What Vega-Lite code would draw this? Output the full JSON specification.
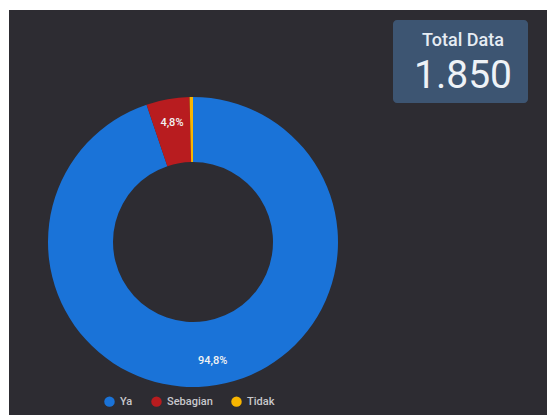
{
  "$schema": "https://vega.github.io/schema/vega-lite/v6.json",
  "width": 547,
  "height": 415,
  "autosize": {"type": "fit", "contains": "padding"},
  "padding": {"left": 9, "top": 10, "right": 0, "bottom": 0},
  "background": "white",
  "view": {"fill": "#2d2c32", "stroke": null},
  "config": {
    "view": {"fill": "#2d2c32", "stroke": null},
    "font": "Roboto",
    "locale": {"number": {"decimal": ",", "thousands": ".", "grouping": [3], "currency": ["Rp", ""]}}
  },
  "datasets": {
    "jawaban": [
      {"kategori": "Ya", "jumlah": 1754, "persen": 0.948, "urut": 1},
      {"kategori": "Sebagian", "jumlah": 89, "persen": 0.048, "urut": 2},
      {"kategori": "Tidak", "jumlah": 7, "persen": 0.004, "urut": 3}
    ],
    "ringkasan": [{"judul": "Total Data", "total": 1850}]
  },
  "layer": [
    {
      "data": {"name": "jawaban"},
      "mark": {"type": "arc", "x": 184, "y": 232, "radius": 145, "radius2": 80},
      "encoding": {
        "theta": {"field": "jumlah", "type": "quantitative", "stack": true},
        "order": {"field": "urut", "type": "quantitative"},
        "color": {
          "field": "kategori",
          "type": "nominal",
          "scale": {"domain": ["Ya", "Sebagian", "Tidak"], "range": ["#1a73d8", "#b81c1f", "#f7b500"]},
          "legend": {
            "title": null,
            "orient": "none",
            "direction": "horizontal",
            "legendX": 95,
            "legendY": 386,
            "symbolType": "circle",
            "symbolSize": 110,
            "symbolStrokeWidth": 0,
            "labelColor": "#c8c8cc",
            "labelFontSize": 11,
            "labelFontWeight": 500,
            "labelFont": "Roboto",
            "labelOffset": 5,
            "columnPadding": 18
          }
        }
      }
    },
    {
      "data": {"name": "jawaban"},
      "transform": [{"filter": "datum.persen > 0.02"}],
      "mark": {"type": "text", "x": 184, "y": 232, "radius": 121, "color": "#f2f2f2", "fontSize": 11, "fontWeight": 500, "font": "Roboto"},
      "encoding": {
        "theta": {"field": "jumlah", "type": "quantitative", "stack": true},
        "order": {"field": "urut", "type": "quantitative"},
        "text": {"field": "persen", "type": "quantitative", "format": ".1%"}
      }
    },
    {
      "data": {"name": "ringkasan"},
      "mark": {"type": "rect", "x": 384, "x2": 519, "y": 10, "y2": 93, "color": "#3d5572", "cornerRadius": 4}
    },
    {
      "data": {"name": "ringkasan"},
      "mark": {"type": "text", "x": 454, "y": 31, "fontSize": 18, "fontWeight": 500, "color": "#e6ecf3", "font": "Roboto", "align": "center", "baseline": "middle"},
      "encoding": {"text": {"field": "judul", "type": "nominal"}}
    },
    {
      "data": {"name": "ringkasan"},
      "mark": {"type": "text", "x": 454, "y": 66, "fontSize": 39, "fontWeight": 400, "color": "#eef2f7", "font": "Roboto", "align": "center", "baseline": "middle"},
      "encoding": {"text": {"field": "total", "type": "quantitative", "format": ",d"}}
    }
  ]
}
